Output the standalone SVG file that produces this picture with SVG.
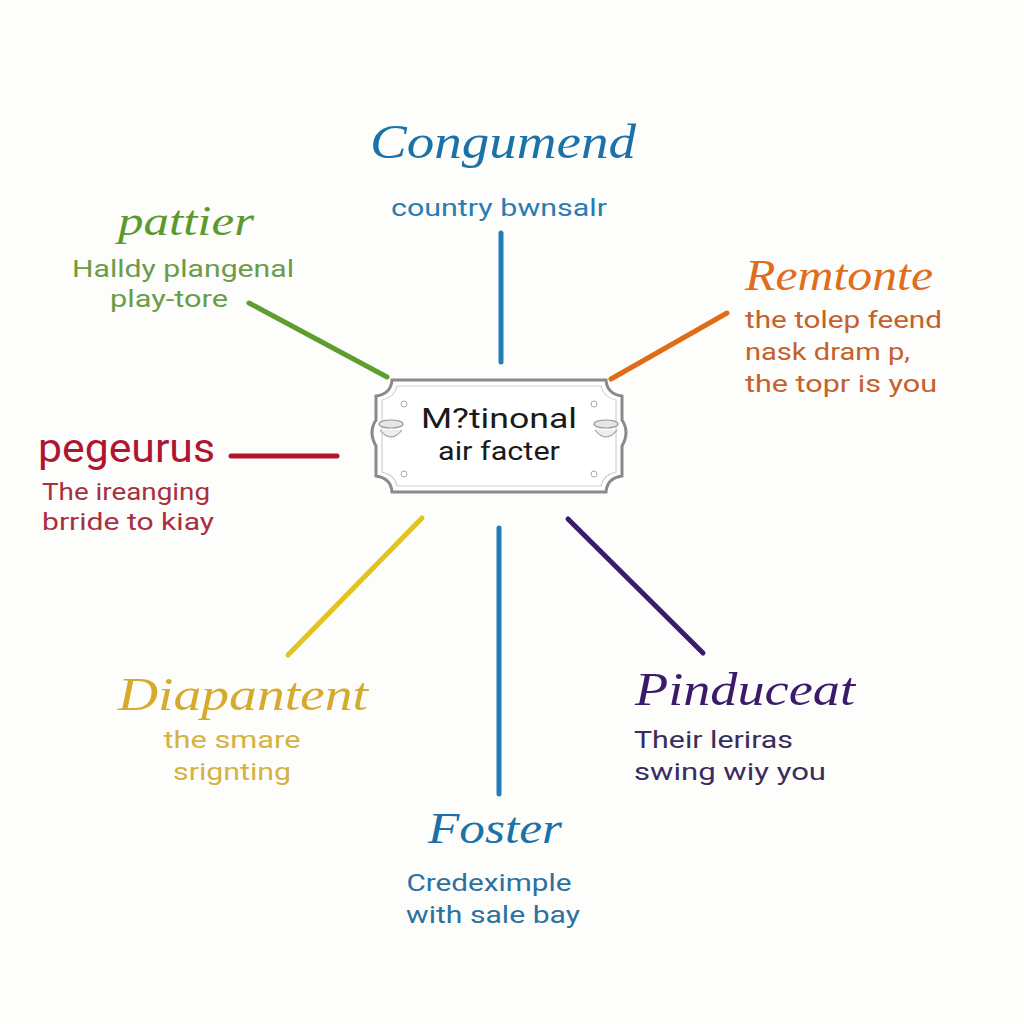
<svg xmlns="http://www.w3.org/2000/svg" width="1024" height="1024" viewBox="0 0 1024 1024">
<style>
.title{font-family:"Liberation Serif","DejaVu Serif",serif;font-style:italic;}
.body{font-family:Roboto,"Open Sans","Liberation Sans",sans-serif;font-size:24px;}
.conn line{stroke-linecap:round;stroke-width:5;}
.orn{fill:none;stroke:#aaa;stroke-width:1;}
</style>
<rect width="1024" height="1024" fill="#fdfdfc"/>
<g id="connectors" class="conn">
<line x1="501" y1="233" x2="501" y2="362" stroke="#1f7fb8"/>
<line x1="249" y1="303" x2="387" y2="377" stroke="#5e9e2e"/>
<line x1="727" y1="313" x2="611" y2="379" stroke="#e06c18"/>
<line x1="231" y1="456" x2="337" y2="456" stroke="#b3172e"/>
<line x1="422" y1="518" x2="288" y2="655" stroke="#e2c320"/>
<line x1="499" y1="528" x2="499" y2="794" stroke="#1f7fb8"/>
<line x1="568" y1="519" x2="703" y2="653" stroke="#3c1b6c"/>
</g>
<g id="center">
<path d="M392,380 L606,380 Q607,394 622,396 L622,420 Q630,432 622,446 L622,476 Q607,478 606,492 L392,492 Q391,478 376,476 L376,446 Q368,432 376,420 L376,396 Q391,394 392,380 Z" fill="#fff" stroke="#8a8a8a" stroke-width="3"/>
<path d="M397,386 L601,386 Q603,397 616,400 L616,472 Q603,475 601,486 L397,486 Q395,475 382,472 L382,400 Q395,397 397,386 Z" fill="none" stroke="#cfcfcf" stroke-width="1.2"/>
<ellipse cx="391" cy="424" rx="12" ry="4" fill="#e6e6e6" stroke="#9a9a9a" stroke-width="1.2"/>
<path d="M380,430 Q391,444 402,430" fill="#eeeeee" stroke="#9a9a9a" stroke-width="1.2"/>
<ellipse cx="606" cy="424" rx="12" ry="4" fill="#e6e6e6" stroke="#9a9a9a" stroke-width="1.2"/>
<path d="M595,430 Q606,444 617,430" fill="#eeeeee" stroke="#9a9a9a" stroke-width="1.2"/>
<circle class="orn" cx="404" cy="404" r="3"/>
<circle class="orn" cx="594" cy="404" r="3"/>
<circle class="orn" cx="404" cy="474" r="3"/>
<circle class="orn" cx="594" cy="474" r="3"/>
<text x="499" y="428" text-anchor="middle" font-family="Roboto,Open Sans,sans-serif" font-size="28" fill="#1a1a1a" textLength="156" lengthAdjust="spacingAndGlyphs">M?tinonal</text>
<text x="499" y="460" text-anchor="middle" font-family="Roboto,Open Sans,sans-serif" font-size="25" fill="#1a1a1a" textLength="122" lengthAdjust="spacingAndGlyphs">air facter</text>
</g>
<g id="congumend">
<text class="title" x="503" y="158" text-anchor="middle" font-size="48" fill="#1b72a8" textLength="266" lengthAdjust="spacingAndGlyphs">Congumend</text>
<text class="body" x="499" y="216" text-anchor="middle" fill="#2a7db2" textLength="216" lengthAdjust="spacingAndGlyphs">country bwnsalr</text>
</g>
<g id="pattier">
<text class="title" x="186" y="235" text-anchor="middle" font-size="42" fill="#5a9a2c" textLength="136" lengthAdjust="spacingAndGlyphs">pattier</text>
<text class="body" x="183" y="277" text-anchor="middle" fill="#6b9c48" textLength="222" lengthAdjust="spacingAndGlyphs">Halldy plangenal</text>
<text class="body" x="169" y="307" text-anchor="middle" fill="#6b9c48" textLength="118" lengthAdjust="spacingAndGlyphs">play-tore</text>
</g>
<g id="remtonte">
<text class="title" x="745" y="290" font-size="44" fill="#df6e1c" textLength="188" lengthAdjust="spacingAndGlyphs">Remtonte</text>
<text class="body" x="745" y="328" fill="#c4612c" textLength="197" lengthAdjust="spacingAndGlyphs">the tolep feend</text>
<text class="body" x="745" y="360" fill="#c4612c" textLength="165" lengthAdjust="spacingAndGlyphs">nask dram p,</text>
<text class="body" x="745" y="392" fill="#c4612c" textLength="192" lengthAdjust="spacingAndGlyphs">the topr is you</text>
</g>
<g id="pegeurus">
<text x="38" y="462" font-family="Roboto,Open Sans,sans-serif" font-size="40" fill="#b01530" textLength="177" lengthAdjust="spacingAndGlyphs">pegeurus</text>
<text class="body" x="42" y="500" fill="#a8303e" textLength="168" lengthAdjust="spacingAndGlyphs">The ireanging</text>
<text class="body" x="42" y="530" fill="#a8303e" textLength="172" lengthAdjust="spacingAndGlyphs">brride to kiay</text>
</g>
<g id="diapantent">
<text class="title" x="118" y="710" font-size="46" fill="#d6aa2c" textLength="250" lengthAdjust="spacingAndGlyphs">Diapantent</text>
<text class="body" x="232" y="748" text-anchor="middle" fill="#d4b244" textLength="137" lengthAdjust="spacingAndGlyphs">the smare</text>
<text class="body" x="232" y="780" text-anchor="middle" fill="#d4b244" textLength="118" lengthAdjust="spacingAndGlyphs">srignting</text>
</g>
<g id="pinduceat">
<text class="title" x="635" y="705" font-size="46" fill="#3b1a6b" textLength="220" lengthAdjust="spacingAndGlyphs">Pinduceat</text>
<text class="body" x="634" y="748" fill="#3a2c5c" textLength="159" lengthAdjust="spacingAndGlyphs">Their leriras</text>
<text class="body" x="634" y="780" fill="#3a2c5c" textLength="192" lengthAdjust="spacingAndGlyphs">swing wiy you</text>
</g>
<g id="foster">
<text class="title" x="495" y="843" text-anchor="middle" font-size="44" fill="#1b72a8" textLength="134" lengthAdjust="spacingAndGlyphs">Foster</text>
<text class="body" x="489" y="891" text-anchor="middle" fill="#2a72a0" textLength="165" lengthAdjust="spacingAndGlyphs">Credeximple</text>
<text class="body" x="493" y="923" text-anchor="middle" fill="#2a72a0" textLength="174" lengthAdjust="spacingAndGlyphs">with sale bay</text>
</g>
</svg>
